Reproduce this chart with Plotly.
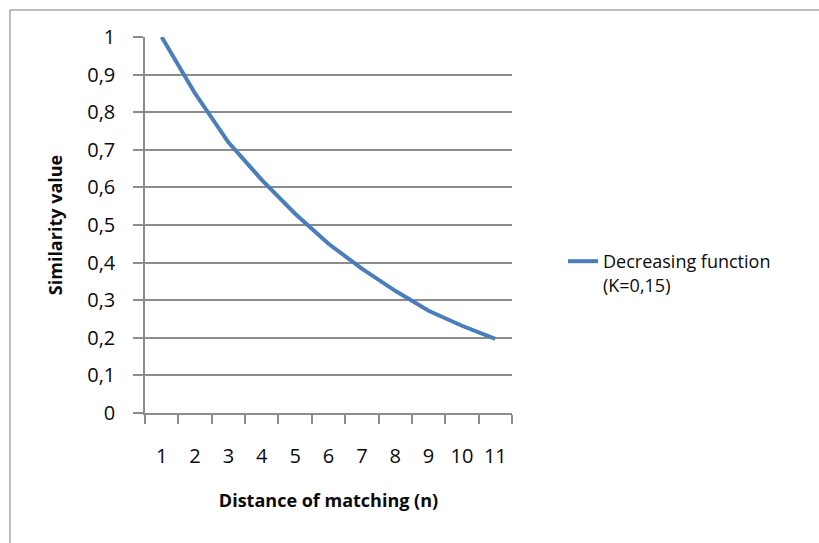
import plotly.graph_objects as go

# Data
distance = ["1", "2", "3", "4", "5", "6", "7", "8", "9", "10", "11"]
similarity = [1.0, 0.85, 0.72, 0.62, 0.53, 0.45, 0.384, 0.325, 0.272, 0.232, 0.197]
series_name = "Decreasing function<br>(K=0,15)"
y_ticks = [0, 0.1, 0.2, 0.3, 0.4, 0.5, 0.6, 0.7, 0.8, 0.9, 1]
y_tick_labels = ["0", "0,1", "0,2", "0,3", "0,4", "0,5", "0,6", "0,7", "0,8", "0,9", "1"]

W, H = 819, 543
L, R, T, B = 145, 307, 37, 130
pw, ph = W - L - R, H - T - B

def px_x(x):
    return (x - L) / pw

def px_y(y):
    return (H - B - y) / ph

FONT = "Open Sans"
GRID = "#8c8c8c"
TXT = "#0a0a0a"

fig = go.Figure()
fig.add_trace(go.Scatter(
    x=distance, y=similarity, mode="lines", name=series_name,
    line=dict(color="#4a7ebb", width=4),
))

fig.update_layout(
    width=W, height=H,
    margin=dict(l=L, r=R, t=T, b=B, pad=0),
    paper_bgcolor="white", plot_bgcolor="white",
    font=dict(family=FONT, color=TXT),
    showlegend=True,
    legend=dict(
        x=px_x(563), y=px_y(243), xanchor="left", yanchor="top",
        font=dict(family=FONT, size=18, color=TXT),
        valign="top", bgcolor="rgba(0,0,0,0)",
    ),
    xaxis=dict(
        type="category", range=[-0.5, 10.5],
        showgrid=False, zeroline=False,
        showline=True, linecolor=GRID, linewidth=1.5,
        ticks="outside", ticklen=9, tickcolor=GRID, tickwidth=1.5,
        tickson="boundaries", ticklabelstandoff=24,
        tickfont=dict(family=FONT, size=20, color=TXT),
        title=dict(text="<b>Distance of matching (n)</b>", font=dict(family=FONT, size=18, color=TXT), standoff=27),
    ),
    yaxis=dict(
        range=[0, 1], tickvals=y_ticks, ticktext=y_tick_labels,
        showgrid=True, gridcolor=GRID, gridwidth=1.5,
        zeroline=False,
        showline=True, linecolor=GRID, linewidth=1.5,
        ticks="outside", ticklen=10, tickcolor=GRID, tickwidth=1.5,
        ticklabelstandoff=14,
        tickfont=dict(family=FONT, size=20, color=TXT),
        title=dict(text="<b>Similarity value</b>", font=dict(family=FONT, size=18, color=TXT), standoff=20),
    ),
    shapes=[dict(
        type="rect", xref="paper", yref="paper",
        x0=px_x(10), x1=px_x(W + 20), y0=px_y(10), y1=px_y(H + 20),
        line=dict(color="#a6a6a6", width=1.5), fillcolor="rgba(0,0,0,0)", layer="below",
    )],
)

fig.write_html("out.html")
